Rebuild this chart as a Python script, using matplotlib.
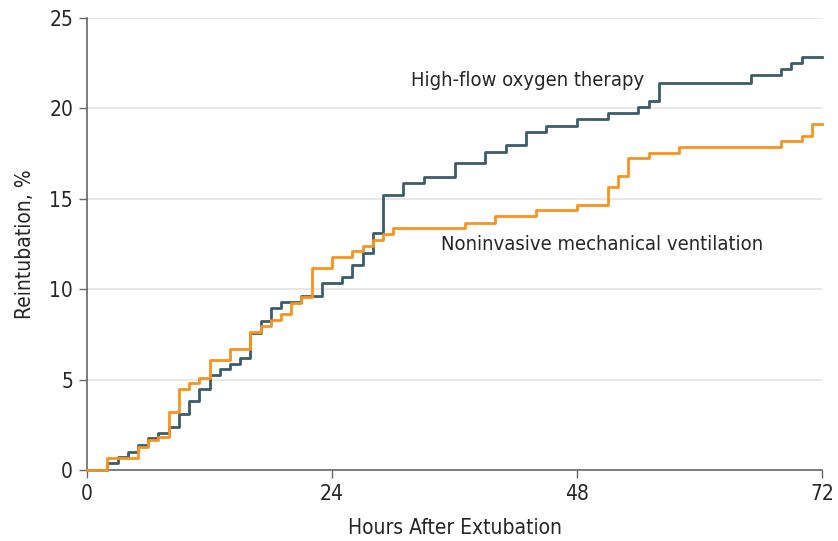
import matplotlib
matplotlib.use("Agg")
import matplotlib.pyplot as plt
from matplotlib import font_manager

# cumulative reintubation (%) by hour after extubation, step curves
hfo_hours = [0, 2, 3, 4, 5, 6, 7, 8, 9, 10, 11, 12, 13, 14, 15, 16, 17, 18, 19, 21,
             23, 25, 26, 27, 28, 29, 31, 33, 36, 39, 41, 43, 45, 48, 51, 54, 55, 56,
             65, 68, 69, 70, 72]
hfo_pct = [0, 0.4, 0.7, 1.0, 1.4, 1.75, 2.05, 2.4, 3.1, 3.8, 4.5, 5.25, 5.57, 5.86, 6.19,
           7.6, 8.26, 8.94, 9.3, 9.6, 10.33, 10.69, 11.34, 11.98, 13.12, 15.2, 15.9,
           16.22, 16.96, 17.6, 18.0, 18.68, 19.03, 19.4, 19.77, 20.1, 20.43, 21.43,
           21.85, 22.16, 22.49, 22.82, 22.82]

niv_hours = [0, 2, 5, 6, 7, 8, 9, 10, 11, 12, 14, 16, 17, 18, 19, 20, 21, 22, 24, 26,
             27, 28, 29, 30, 37, 40, 44, 48, 51, 52, 53, 55, 58, 68, 70, 71, 72]
niv_pct = [0, 0.65, 1.3, 1.66, 1.85, 3.22, 4.5, 4.83, 5.07, 6.08, 6.67, 7.65, 7.96, 8.3,
           8.65, 9.25, 9.59, 11.16, 11.76, 12.13, 12.39, 12.72, 13.05, 13.4, 13.68, 14.05,
           14.38, 14.66, 15.64, 16.26, 17.24, 17.52, 17.86, 18.2, 18.49, 19.14, 19.14]

x_ticks = [0, 24, 48, 72]
y_ticks = [0, 5, 10, 15, 20, 25]

# look for a narrow/condensed face, the original uses a condensed sans
narrow = None
for f in font_manager.fontManager.ttflist:
    n = (f.name + " " + str(f.stretch)).lower()
    if ("narrow" in n or "condensed" in n) and f.style == "normal" and f.weight in (400, "normal", "regular"):
        narrow = f
        break
if narrow is not None:
    plt.rcParams['font.family'] = [narrow.name, 'DejaVu Sans']
    plt.rcParams['font.stretch'] = narrow.stretch
    fs = 14.5
    fs_ax = 15
else:
    plt.rcParams['font.family'] = ['DejaVu Sans']
    fs = 13
    fs_ax = 14

fig = plt.figure(figsize=(8.38, 5.41), dpi=100)
ax = fig.add_axes([0.1038, 0.1312, 0.8772, 0.8355])

teal = "#3b5d6a"
orange = "#f7931e"
txt = "#262626"

for y in y_ticks[1:]:
    ax.axhline(y, color="#e3e3e3", lw=1.2, zorder=0)

ax.step(hfo_hours, hfo_pct, where="post", color=teal, lw=2.0, zorder=3, clip_on=False)
ax.step(niv_hours, niv_pct, where="post", color=orange, lw=2.0, zorder=4, clip_on=False)

ax.text(31.7, 21.55, "High-flow oxygen therapy", fontsize=fs, color=txt,
        va="center", ha="left")
ax.text(34.7, 12.45, "Noninvasive mechanical ventilation", fontsize=fs, color=txt,
        va="center", ha="left")

ax.set_xlim(0, 72)
ax.set_ylim(0, 25)
ax.set_xticks(x_ticks)
ax.set_yticks(y_ticks)
ax.tick_params(axis="both", direction="out", length=6, width=1, color="#666666",
               labelsize=fs_ax, labelcolor=txt, pad=4)
for s in ["top", "right"]:
    ax.spines[s].set_visible(False)
for s in ["left", "bottom"]:
    ax.spines[s].set_color("#666666")
    ax.spines[s].set_linewidth(1.2)
    ax.spines[s].set_zorder(2)

ax.set_xlabel("Hours After Extubation", fontsize=fs_ax, color=txt, labelpad=10)
ax.set_ylabel("Reintubation, %", fontsize=fs_ax, color=txt, labelpad=10)

fig.savefig("out.png", dpi=100)
